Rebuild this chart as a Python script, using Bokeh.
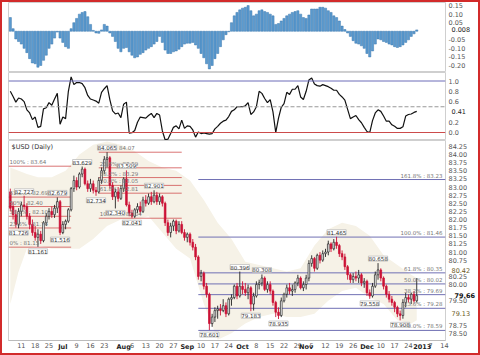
import pandas as pd
from bokeh.plotting import figure
from bokeh.layouts import column
from bokeh.models import (ColumnDataSource, Range1d, FixedTicker, PrintfTickFormatter,
                          Span, Label, LinearAxis)
from bokeh.embed import file_html
from bokeh.resources import INLINE

# ---------------- calendar (trading days) ----------------
HOLIDAYS = ["2012-12-25", "2013-01-01"]
calendar = [d.strftime("%Y-%m-%d") for d in pd.bdate_range("2012-06-05", "2013-01-18")
            if d.strftime("%Y-%m-%d") not in HOLIDAYS]
pos = {d: i for i, d in enumerate(calendar)}

# ---------------- price data ($USD daily) ----------------
opens = [82.85,82.40,82.15,81.85,82.25,82.45,82.40,82.10,81.85,81.60,81.45,81.55,81.35,81.90,82.10,82.25,82.15,82.35,82.55,
         81.60,81.85,81.95,82.30,82.95,83.20,83.00,83.40,83.55,83.10,82.95,83.10,82.90,82.85,83.20,83.50,83.85,83.90,83.05,82.70,82.85,82.65,
         82.95,83.25,82.45,82.20,82.10,82.30,82.40,82.25,82.60,82.50,82.70,82.55,82.75,82.55,82.70,82.50,81.90,81.60,81.80,81.95,81.65,81.85,81.60,
         81.45,81.55,81.30,81.15,80.85,80.25,80.35,79.95,79.70,78.80,79.00,79.20,79.25,79.20,79.35,79.10,79.55,79.60,79.95,79.65,
         79.95,79.85,79.75,79.90,79.40,79.65,80.00,80.05,80.20,79.85,80.00,79.80,79.45,79.15,79.05,79.50,79.70,79.90,79.80,79.85,80.05,80.20,79.90,
         80.00,80.20,80.65,80.80,80.50,80.90,80.75,80.95,81.00,81.25,81.10,81.30,81.20,80.95,80.85,80.55,80.30,80.15,80.25,80.20,80.30,80.05,
         80.10,79.75,79.65,79.95,80.30,80.45,80.20,79.95,79.70,79.55,79.45,79.30,79.10,79.05,79.45,79.60,79.55,79.70,79.50]
highs = [82.95,82.55,82.30,82.35,82.55,82.73,82.50,82.20,82.00,81.80,81.70,81.65,81.95,82.20,82.35,82.40,82.45,82.68,82.60,
         81.95,82.00,82.35,83.00,83.35,83.30,83.45,83.63,83.60,83.20,83.25,83.20,83.00,83.30,83.60,83.95,84.07,83.95,83.15,82.95,83.00,83.05,
         83.30,83.51,82.55,82.30,82.35,82.50,82.55,82.70,82.75,82.80,82.85,82.90,82.85,82.80,82.75,82.55,82.00,81.90,82.00,82.00,81.95,81.95,81.70,
         81.60,81.60,81.40,81.25,80.90,80.45,80.40,80.05,79.75,79.10,79.30,79.35,79.40,79.55,79.45,79.60,79.70,80.00,80.05,80.40,
         80.10,80.05,80.00,79.95,79.75,80.10,80.15,80.31,80.25,80.10,80.10,79.85,79.50,79.30,79.60,79.75,80.00,80.05,80.00,80.10,80.30,80.25,80.10,
         80.30,80.75,80.90,80.85,80.95,81.00,81.05,81.10,81.35,81.30,81.40,81.47,81.25,81.05,80.95,80.60,80.35,80.35,80.40,80.45,80.35,80.20,
         80.15,79.85,80.05,80.40,80.66,80.50,80.25,80.00,79.80,79.65,79.50,79.35,79.20,79.55,79.75,79.70,79.75,79.80,80.20]
lows = [82.25,82.00,81.75,81.73,82.10,82.30,82.00,81.70,81.50,81.35,81.16,81.25,81.30,81.80,82.00,82.05,82.05,82.20,81.52,
        81.55,81.70,81.90,82.25,82.85,82.90,82.95,83.30,83.05,82.85,82.85,82.80,82.73,82.80,83.10,83.40,83.60,82.95,82.60,82.34,82.55,82.60,
        82.85,82.40,82.10,82.04,82.05,82.20,82.15,82.20,82.40,82.45,82.45,82.50,82.45,82.45,82.40,81.80,81.50,81.45,81.65,81.55,81.60,81.55,81.35,
        81.30,81.20,81.05,80.75,80.15,80.10,79.85,79.60,78.60,78.70,78.85,78.95,79.05,79.15,79.00,79.05,79.35,79.55,79.55,79.60,
        79.70,79.65,79.55,79.18,79.20,79.60,79.85,79.95,79.80,79.75,79.70,79.35,79.00,78.94,79.00,79.45,79.60,79.70,79.65,79.75,79.95,79.85,79.80,
        79.85,80.10,80.55,80.40,80.45,80.65,80.70,80.85,80.90,81.00,81.05,81.10,80.85,80.75,80.45,80.15,80.05,80.05,80.10,80.05,79.95,79.90,
        79.65,79.56,79.60,79.90,80.15,80.10,79.85,79.60,79.45,79.35,79.15,79.00,78.90,78.95,79.30,79.45,79.40,79.45,79.45]
closes = [82.35,82.15,81.85,82.25,82.45,82.40,82.10,81.85,81.60,81.45,81.55,81.35,81.90,82.10,82.25,82.15,82.35,82.55,81.60,
          81.85,81.95,82.30,82.95,83.20,83.00,83.40,83.55,83.10,82.95,83.10,82.90,82.85,83.20,83.50,83.85,83.90,83.05,82.70,82.85,82.65,82.95,
          83.25,82.45,82.20,82.10,82.30,82.40,82.25,82.60,82.50,82.70,82.55,82.75,82.55,82.70,82.50,81.90,81.60,81.80,81.95,81.65,81.85,81.60,81.45,
          81.55,81.30,81.15,80.85,80.25,80.35,79.95,79.70,78.80,79.00,79.20,79.25,79.20,79.35,79.10,79.55,79.60,79.95,79.65,79.95,
          79.85,79.75,79.90,79.40,79.65,80.00,80.05,80.20,79.85,80.00,79.80,79.45,79.15,79.05,79.50,79.70,79.90,79.80,79.85,80.05,80.20,79.90,80.00,
          80.20,80.65,80.80,80.50,80.90,80.75,80.95,81.00,81.25,81.10,81.30,81.20,80.95,80.85,80.55,80.30,80.15,80.25,80.20,80.30,80.05,80.10,
          79.75,79.65,79.95,80.30,80.45,80.20,79.95,79.70,79.55,79.45,79.30,79.10,79.05,79.45,79.60,79.55,79.70,79.50,79.66]

# envelope band (read at sample days)
band_idx = [0, 3, 6, 10, 15, 20, 25, 30, 35, 40, 45, 50, 55, 60, 65, 70, 75, 80, 85, 90, 95, 100, 105,
            110, 115, 120, 125, 130, 135, 140, 145, 147]
band_upper = [83.6, 83.5, 83.4, 83.3, 83.3, 83.5, 84.0, 84.3, 84.4, 84.3, 84.1, 83.8, 83.6, 83.5, 83.2, 82.6,
              81.9, 81.4, 80.7, 80.6, 80.5, 80.4, 80.5, 81.2, 81.7, 81.9, 81.8, 81.5, 80.9, 80.6, 80.3, 80.2]
band_lower = [79.4, 80.4, 81.1, 81.2, 81.1, 81.1, 81.1, 81.4, 81.8, 82.0, 82.0, 82.1, 81.6, 81.1, 80.8, 79.4,
              78.3, 78.5, 78.8, 79.0, 79.1, 79.0, 79.0, 79.1, 79.5, 79.8, 79.9, 79.6, 79.4, 78.9, 78.8, 78.9]

# ---------------- indicators ----------------
hist = [0.08,0.015,-0.045,-0.06,-0.075,-0.10,-0.125,-0.16,-0.185,-0.19,-0.21,-0.20,-0.17,-0.14,-0.10,-0.075,-0.04,-0.005,-0.04,
        -0.065,-0.09,-0.10,0.015,0.05,0.075,0.10,0.11,0.115,0.085,0.04,0.005,-0.01,-0.012,0.008,0.04,0.03,-0.01,-0.03,-0.06,-0.10,-0.12,
        -0.10,-0.095,-0.12,-0.14,-0.155,-0.15,-0.135,-0.125,-0.11,-0.10,-0.09,-0.075,-0.06,-0.03,-0.065,-0.11,-0.13,-0.13,-0.12,-0.115,-0.105,-0.09,-0.075,
        -0.07,-0.07,-0.065,-0.08,-0.10,-0.13,-0.155,-0.19,-0.22,-0.20,-0.16,-0.13,-0.09,-0.05,-0.02,-0.003,0.05,0.09,0.11,0.125,
        0.135,0.14,0.15,0.12,0.09,0.10,0.12,0.125,0.115,0.11,0.10,0.09,0.04,0.045,0.06,0.075,0.09,0.10,0.11,0.115,0.12,0.10,0.08,
        0.075,0.095,0.13,0.13,0.13,0.14,0.14,0.135,0.12,0.11,0.09,0.08,0.06,0.03,0.01,-0.01,-0.03,-0.055,-0.07,-0.075,-0.085,-0.10,
        -0.13,-0.15,-0.115,-0.075,-0.045,-0.05,-0.06,-0.065,-0.075,-0.08,-0.09,-0.095,-0.09,-0.08,-0.065,-0.05,-0.03,-0.015,0.008]
pctb = [0.80,0.70,0.59,0.67,0.65,0.60,0.44,0.38,0.25,0.30,0.10,0.12,0.46,0.48,0.58,0.53,0.65,0.76,0.16,
        0.30,0.27,0.80,1.08,0.93,0.97,0.97,0.95,0.87,0.72,0.65,0.63,0.61,0.57,0.78,0.85,0.91,0.64,0.42,0.36,0.38,0.29,
        0.55,0.59,-0.01,-0.005,0.04,0.20,0.30,0.29,0.28,0.33,0.37,0.29,0.37,0.34,0.03,-0.14,-0.13,-0.02,0.10,0.13,0.07,0.24,0.08,
        0.13,0.12,0.05,-0.09,0.01,-0.02,-0.01,-0.02,-0.03,-0.02,0.07,0.12,0.18,0.22,0.24,0.31,0.41,0.44,0.50,0.50,
        0.50,0.52,0.58,0.35,0.40,0.50,0.80,0.76,0.66,0.58,0.64,0.40,0.0,0.28,0.49,0.56,0.78,0.74,0.84,0.84,0.91,0.69,0.64,
        0.80,1.02,1.06,0.94,0.91,0.90,0.93,0.91,0.89,0.86,0.82,0.82,0.74,0.69,0.63,0.45,0.27,0.30,0.33,0.25,0.19,0.10,
        0.02,0.0,0.23,0.38,0.44,0.41,0.32,0.22,0.22,0.15,0.12,0.08,0.08,0.11,0.32,0.35,0.36,0.39,0.41]

# ---------------- annotations ----------------
tick_dates = ["2012-06-11","2012-06-18","2012-06-25","2012-07-02","2012-07-09","2012-07-16","2012-07-23",
              "2012-08-01","2012-08-06","2012-08-13","2012-08-20","2012-08-27","2012-09-03","2012-09-10",
              "2012-09-17","2012-09-24","2012-10-01","2012-10-08","2012-10-15","2012-10-22","2012-10-29",
              "2012-11-01","2012-11-05","2012-11-12","2012-11-19","2012-11-26","2012-12-03","2012-12-10",
              "2012-12-17","2012-12-24","2013-01-02","2013-01-07","2013-01-14"]
tick_labels = ["11","18","25","Jul","9","16","23","Aug","6","13","20","27","Sep","10","17","24","Oct","8",
               "15","22","29","Nov","5","12","19","26","Dec","10","17","24","2013","7","14"]
month_labels = ["Jul","Aug","Sep","Oct","Nov","Dec","2013"]

hist_ticks = [0.15, 0.10, 0.05, -0.05, -0.10, -0.15, -0.20]
pctb_ticks = [1.0, 0.8, 0.6, 0.2, 0.0]
price_ticks = [78.50, 78.75, 79.50, 80.00, 80.25, 80.75, 81.00, 81.25, 81.50, 81.75, 82.00, 82.25,
               82.50, 82.75, 83.00, 83.25, 83.50, 83.75, 84.00, 84.25]

fibA_start = "2012-09-07"
fibA_levels = [78.59, 79.27, 79.69, 80.02, 80.36, 81.46, 83.23]
fibA_texts = ["0.0% : 78.59","23.6% : 79.28","38.2% : 79.69","50.0% : 80.02","61.8% : 80.35","100.0% : 81.46","161.8% : 83.23"]
fibB_end = "2012-07-05"
fibB_levels = [81.15, 81.74, 82.10, 82.40, 82.69, 83.64]
fibB_texts = ["0% : 81.15","23.6% : 81.74","38.2% : 82.10","50% : 82.40","61.8% : 82.69","100% : 83.64"]
fibC_start = "2012-07-19"
fibC_end = "2012-08-30"
fibC_levels = [82.04, 82.81, 83.05, 83.29, 83.59, 84.07]
fibC_texts = ["100.0% : 82.04","61.8% : 82.81","50.0% : 83.05","38.2% : 83.29","23.6% : 83.59","0.0% : 84.07"]

ann_dates = ["2012-06-12","2012-06-08","2012-06-19","2012-06-28","2012-06-29","2012-07-11","2012-07-24",
             "2012-08-02","2012-07-18","2012-07-27","2012-08-06","2012-08-16","2012-09-13","2012-09-28",
             "2012-10-04","2012-10-10","2012-10-18","2012-11-16","2012-12-04","2012-12-07","2012-12-19"]
ann_texts = ["82.727","81.726","81.161","82.679","81.516","83.629","84.065","83.509","82.734","82.340","82.041",
             "82.901","78.601","80.396","79.183","80.308","78.935","81.465","79.558","80.658","78.908"]
ann_above = [True,False,False,True,False,True,True,True,False,False,False,True,False,True,False,True,False,
             True,False,True,False]

hist_box = [0.008]
hist_box_text = ["0.008"]
pctb_box = [0.41]
pctb_box_text = ["0.41"]
price_box_soft = [80.42, 79.12]
price_box_soft_text = ["80.42", "79.13"]
price_box_last = [79.66]
price_box_last_text = ["79.66"]

# ---------------- geometry ----------------
X0, X1 = -0.65, 157.4
xr = Range1d(X0, X1)
W = 476
LB, RB = 6, 30
FONT = "DejaVu Sans"
AX_COLOR = "#555555"


def style_axis(ax, size="6.5px", color=AX_COLOR, standoff=3):
    ax.axis_line_color = None
    ax.major_tick_line_color = None
    ax.minor_tick_line_color = None
    ax.major_tick_out = 0
    ax.minor_tick_out = 0
    ax.major_label_text_font_size = size
    ax.major_label_text_color = color
    ax.major_label_text_font = FONT
    ax.major_label_standoff = standoff


def base_fig(height, y0, y1, bottom=0, xaxis=False):
    p = figure(width=W, height=height, x_range=xr, y_range=Range1d(y0, y1),
               output_backend="svg", toolbar_location=None,
               y_axis_location="right", x_axis_location="below" if xaxis else None,
               min_border_left=LB, min_border_right=RB, min_border_top=0, min_border_bottom=bottom)
    p.grid.visible = False
    p.outline_line_color = "#cfcfcf"
    p.background_fill_color = "white"
    p.border_fill_color = "white"
    style_axis(p.yaxis[0])
    return p


def box_axis(p, ticks, texts, standoff, color="#222222", bold=False):
    # an extra right axis stacked after the main one, pulled back over the label column
    ax = LinearAxis(ticker=FixedTicker(ticks=ticks), major_label_overrides=dict(zip(ticks, texts)))
    style_axis(ax, color=color, standoff=standoff)
    ax.major_label_text_font_style = "bold" if bold else "normal"
    p.add_layout(ax, "right")


# ---- panel 1 : histogram ----
p1 = base_fig(70, -0.241, 0.168)
src1 = ColumnDataSource(dict(x=list(range(len(hist))), top=hist))
p1.vbar(x="x", top="top", bottom=0, width=0.8, source=src1, fill_color="#5b9bd0", line_color="#3b77ad",
        line_width=0.5)
p1.yaxis[0].ticker = FixedTicker(ticks=hist_ticks)
p1.yaxis[0].formatter = PrintfTickFormatter(format="%.2f")
box_axis(p1, hist_box, hist_box_text, -17)

# ---- panel 2 : %B ----
p2 = base_fig(68, -0.155, 1.165)
for lvl, col, dash in [(1.0, "#6d6db8", "solid"), (0.5, "#999999", "4 2"), (0.0, "#cc4b4b", "solid")]:
    p2.add_layout(Span(location=lvl, dimension="width", line_color=col, line_width=1, line_dash=dash))
p2.line(list(range(len(pctb))), pctb, line_color="#111111", line_width=1.2)
p2.yaxis[0].ticker = FixedTicker(ticks=pctb_ticks)
p2.yaxis[0].formatter = PrintfTickFormatter(format="%.1f")
box_axis(p2, pctb_box, pctb_box_text, -10)

# ---- panel 3 : candles ----
p3 = base_fig(213, 78.28, 84.43, bottom=10, xaxis=True)
n = len(closes)
up = [c >= o for o, c in zip(opens, closes)]
src3 = ColumnDataSource(dict(
    x=list(range(n)), o=opens, h=highs, l=lows, c=closes,
    top=[max(o, c) for o, c in zip(opens, closes)],
    bot=[min(o, c) for o, c in zip(opens, closes)],
    fill=["#ffffff" if u else "#cc1236" for u in up],
    line=["#222222" if u else "#cc1236" for u in up],
))

p3.varea(x=band_idx, y1=band_lower, y2=band_upper, fill_color="#f6f2e7")

# fib set A (blue)
xa = pos[fibA_start]
for lvl, t in zip(fibA_levels, fibA_texts):
    p3.segment(x0=xa, x1=X1, y0=lvl, y1=lvl, line_color="#7070b4", line_width=1)
    p3.add_layout(Label(x=X1, y=lvl, x_offset=-3, y_offset=1, text=t, text_align="right",
                        text_baseline="bottom", text_font_size="5.5px", text_font=FONT, text_color="#777777"))
# fib set B (red, left)
xb = pos[fibB_end]
for lvl, t in zip(fibB_levels, fibB_texts):
    p3.segment(x0=X0, x1=xb, y0=lvl, y1=lvl, line_color="#d05050", line_width=0.8)
    p3.add_layout(Label(x=X0, y=lvl, x_offset=1, y_offset=1, text=t, text_align="left",
                        text_baseline="bottom", text_font_size="5.5px", text_font=FONT, text_color="#777777"))
# fib set C (red, middle)
xc0, xc1 = pos[fibC_start], pos[fibC_end]
for lvl, t in zip(fibC_levels, fibC_texts):
    p3.segment(x0=xc0, x1=xc1, y0=lvl, y1=lvl, line_color="#d05050", line_width=0.8)
    p3.add_layout(Label(x=xc0, y=lvl, x_offset=1, y_offset=1, text=t, text_align="left",
                        text_baseline="bottom", text_font_size="5.5px", text_font=FONT, text_color="#777777"))

p3.segment(x0="x", x1="x", y0="l", y1="h", source=src3, line_color="line", line_width=0.9)
p3.vbar(x="x", top="top", bottom="bot", width=0.62, source=src3, fill_color="fill", line_color="line",
        line_width=0.7)

for d, t, a in zip(ann_dates, ann_texts, ann_above):
    i = pos[d]
    p3.add_layout(Label(x=i, y=highs[i] if a else lows[i], y_offset=2 if a else -2, text=t,
                        text_align="center", text_baseline="bottom" if a else "top",
                        text_font_size="5.5px", text_font=FONT, text_color="#333333",
                        background_fill_color="#ffffff", border_line_color="#aaaaaa", border_line_width=0.6))

p3.add_layout(Label(x=X0, y=84.43, x_offset=3, y_offset=-2, text="$USD (Daily)", text_baseline="top",
                    text_font_size="6.5px", text_font=FONT, text_color="#333333"))

p3.yaxis[0].ticker = FixedTicker(ticks=price_ticks)
p3.yaxis[0].formatter = PrintfTickFormatter(format="%.2f")
box_axis(p3, price_box_soft, price_box_soft_text, -19, color="#6b5a1e")
box_axis(p3, price_box_last, price_box_last_text, -19, color="#111111", bold=True)

# bottom axis: week labels (normal) + month labels (bold, stacked and pulled back up)
xa_ = p3.xaxis[0]
tick_pos = [pos[d] for d in tick_dates]
xa_.ticker = FixedTicker(ticks=tick_pos)
xa_.major_label_overrides = {p_: ("" if t in month_labels else t) for p_, t in zip(tick_pos, tick_labels)}
style_axis(xa_, standoff=2)
xa_.axis_line_color = "#bbbbbb"
mpos = [p_ for p_, t in zip(tick_pos, tick_labels) if t in month_labels]
max_ = LinearAxis(ticker=FixedTicker(ticks=mpos),
                  major_label_overrides={p_: t for p_, t in zip(tick_pos, tick_labels) if t in month_labels})
style_axis(max_, color="#222222", standoff=-8)
max_.major_label_text_font_style = "bold"
p3.add_layout(max_, "below")

layout = column(p1, p2, p3, spacing=0, styles={"border": "2px solid #d22b2b"})

open("out.html", "w").write(file_html(layout, INLINE))
